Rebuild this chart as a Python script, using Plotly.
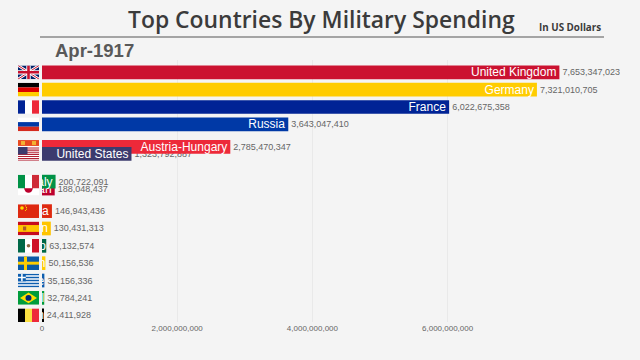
import base64
import plotly.graph_objects as go

# Drawn back to front
countries = ["United Kingdom", "Germany", "France", "Russia", "Austria-Hungary", "United States",
             "Japan", "Italy", "China", "Spain", "Mexico", "Sweden", "Greece", "Brazil", "Belgium"]
values = [7653347023, 7321010705, 6022675358, 3643047410, 2785470347, 1323792887,
          188048437, 200722091, 146943436, 130431313, 63132574, 50156536, 35156336, 32784241, 24411928]
ranks = [1, 2, 3, 4, 5.3, 5.7, 7.7, 7.3, 9, 10, 11, 12, 13, 14, 15]
colors = ["#cb1230", "#ffcc00", "#002395", "#0039a6", "#ed2939", "#3c3b6e",
          "#bc002d", "#009246", "#de2910", "#ffc400", "#006847", "#fecc00", "#0d5eaf", "#009c3b", "#000000"]
tick_values = [0, 2000000000, 4000000000, 6000000000]
tick_labels = ["0", "2,000,000,000", "4,000,000,000", "6,000,000,000"]
period = "Apr-1917"

flags = {
    "United Kingdom": '<rect width="21" height="14" fill="#012169"/><path d="M0 0L21 14M21 0L0 14" stroke="#fff" stroke-width="2.8"/><path d="M0 0L21 14M21 0L0 14" stroke="#c8102e" stroke-width="1"/><path d="M10.5 0V14M0 7H21" stroke="#fff" stroke-width="4.4"/><path d="M10.5 0V14M0 7H21" stroke="#c8102e" stroke-width="2.6"/>',
    "Germany": '<rect width="21" height="4.7" fill="#000"/><rect y="4.7" width="21" height="4.7" fill="#dd0000"/><rect y="9.4" width="21" height="4.6" fill="#ffce00"/>',
    "France": '<rect width="7" height="14" fill="#002395"/><rect x="7" width="7" height="14" fill="#fff"/><rect x="14" width="7" height="14" fill="#ed2939"/>',
    "Russia": '<rect width="21" height="4.7" fill="#fff"/><rect y="4.7" width="21" height="4.7" fill="#0039a6"/><rect y="9.4" width="21" height="4.6" fill="#d52b1e"/>',
    "Austria-Hungary": '<rect width="21" height="14" fill="#e8491f"/><rect x="3" y="1" width="4" height="4" fill="#f2b233"/><rect x="14" y="1" width="4" height="4" fill="#f2b233"/><rect y="6" width="21" height="8" fill="#fff"/>',
    "United States": '<rect width="21" height="14" fill="#fff"/><path d="M0 1H21M0 3.2H21M0 5.4H21M0 7.5H21M0 9.7H21M0 11.8H21M0 13.6H21" stroke="#b22234" stroke-width="1.1"/><rect width="9.5" height="7.5" fill="#3c3b6e"/>',
    "Japan": '<rect width="21" height="14" fill="#fff"/><circle cx="10.5" cy="7" r="4.2" fill="#bc002d"/>',
    "Italy": '<rect width="7" height="14" fill="#009246"/><rect x="7" width="7" height="14" fill="#fff"/><rect x="14" width="7" height="14" fill="#ce2b37"/>',
    "China": '<rect width="21" height="14" fill="#de2910"/><circle cx="4" cy="3.8" r="1.8" fill="#ffde00"/><circle cx="7.5" cy="1.6" r=".6" fill="#ffde00"/><circle cx="8.5" cy="3.2" r=".6" fill="#ffde00"/><circle cx="8.5" cy="5" r=".6" fill="#ffde00"/><circle cx="7.5" cy="6.4" r=".6" fill="#ffde00"/>',
    "Spain": '<rect width="21" height="14" fill="#c60b1e"/><rect y="3.5" width="21" height="7" fill="#ffc400"/><rect x="5" y="5" width="3.2" height="4" fill="#ad5b2c"/>',
    "Mexico": '<rect width="7" height="14" fill="#006847"/><rect x="7" width="7" height="14" fill="#fff"/><rect x="14" width="7" height="14" fill="#ce1126"/><circle cx="10.5" cy="7" r="1.8" fill="#8c6a45"/>',
    "Sweden": '<rect width="21" height="14" fill="#0b5aa5"/><rect x="6" width="3" height="14" fill="#fecc00"/><rect y="5.5" width="21" height="3" fill="#fecc00"/>',
    "Greece": '<rect width="21" height="14" fill="#fff"/><path d="M0 .8H21M0 3.9H21M0 7H21M0 10.1H21M0 13.2H21" stroke="#0d5eaf" stroke-width="1.55"/><rect width="7.8" height="7.8" fill="#0d5eaf"/><path d="M3.9 0V7.8M0 3.9H7.8" stroke="#fff" stroke-width="1.5"/>',
    "Brazil": '<rect width="21" height="14" fill="#009c3b"/><path d="M10.5 1.6L19 7L10.5 12.4L2 7Z" fill="#ffdf00"/><circle cx="10.5" cy="7" r="3" fill="#002776"/>',
    "Belgium": '<rect width="7" height="14" fill="#000"/><rect x="7" width="7" height="14" fill="#fae042"/><rect x="14" width="7" height="14" fill="#ed2939"/>',
}


def flag_uri(name):
    svg = ('<svg xmlns="http://www.w3.org/2000/svg" viewBox="0 0 21 14" width="210" height="140" '
           'preserveAspectRatio="none">' + flags[name] + '</svg>')
    return "data:image/svg+xml;base64," + base64.b64encode(svg.encode()).decode()


BAR_W = 0.79
fig = go.Figure()

# Value labels first, so a later bar can hide them
for c, v, r in zip(countries, values, ranks):
    fig.add_trace(go.Bar(
        x=[v], y=[r], orientation="h", width=BAR_W,
        marker=dict(color="rgba(0,0,0,0)", line=dict(width=0)),
        text=[f"{v:,}"], textposition="outside", textangle=0, constraintext="none",
        outsidetextfont=dict(family="Liberation Sans", size=9, color="#666666"),
        hoverinfo="skip", showlegend=False,
    ))

for c, v, r, col in zip(countries, values, ranks, colors):
    fig.add_trace(go.Bar(
        x=[v], y=[r], orientation="h", width=BAR_W,
        marker=dict(color=col, line=dict(width=0)),
        text=[c], textposition="inside", insidetextanchor="end", textangle=0, constraintext="none",
        insidetextfont=dict(family="Liberation Sans", size=12, color="#ffffff"),
        cliponaxis=True, hoverinfo="skip", showlegend=False,
    ))

PLOT_W = 578
images = [dict(source=flag_uri(c), xref="paper", yref="y",
               x=-24 / PLOT_W, y=r, sizex=21 / PLOT_W, sizey=BAR_W,
               xanchor="left", yanchor="middle", sizing="stretch", layer="above")
          for c, r in zip(countries, ranks)]

fig.update_layout(
    width=640, height=360,
    autosize=False,
    paper_bgcolor="#f4f4f4", plot_bgcolor="#f4f4f4",
    margin=dict(l=42, r=20, t=60, b=38),
    barmode="overlay",
    images=images,
    xaxis=dict(range=[0, 8.55e9], tickmode="array", tickvals=tick_values, ticktext=tick_labels,
               tickfont=dict(family="Liberation Sans", size=8, color="#666666"),
               showgrid=True, gridcolor="#e9e9e9", gridwidth=1, zeroline=False,
               showline=False, ticks="", fixedrange=True),
    yaxis=dict(range=[15.39, 0.291], visible=False, fixedrange=True),
    shapes=[dict(type="line", xref="paper", yref="paper",
                 x0=-2 / PLOT_W, x1=562 / PLOT_W, y0=1 + 23 / 262, y1=1 + 23 / 262,
                 line=dict(color="#555555", width=1))],
    annotations=[
        dict(text="Top Countries By Military Spending", xref="paper", yref="paper",
             x=84 / PLOT_W, y=1 + 23 / 262, xanchor="left", yanchor="bottom", showarrow=False,
             font=dict(family="Open Sans", size=22.9, color="#3b3b3b", weight=600)),
        dict(text="In US Dollars", xref="paper", yref="paper",
             x=495 / PLOT_W, y=1 + 24 / 262, xanchor="left", yanchor="bottom", showarrow=False,
             font=dict(family="Open Sans", size=9.8, color="#3b3b3b", weight=700)),
        dict(text=period, xref="paper", yref="paper",
             x=11 / PLOT_W, y=1 - 3 / 262, xanchor="left", yanchor="bottom", showarrow=False,
             font=dict(family="Liberation Sans", size=18.5, color="#595959", weight=700)),
    ],
)

fig.write_html("out.html", config={"displayModeBar": False},
               post_script="document.body.style.margin='0';document.body.style.background='#f4f4f4';")
